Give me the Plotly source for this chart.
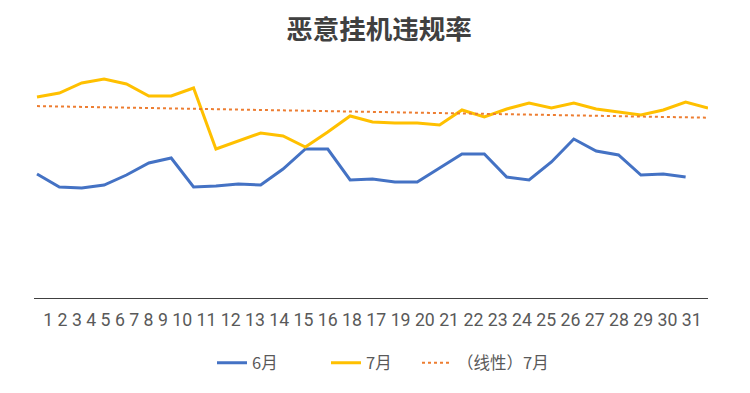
import numpy as np
import plotly.graph_objects as go

# ---- data ----
day_labels = ["1", "2", "3", "4", "5", "6", "7", "8", "9", "10", "11", "12", "13", "14", "15",
              "16", "18", "17", "19", "20", "21", "22", "23", "24", "25", "26", "27", "28",
              "29", "30", "31"]
june = [12.4, 11.1, 11.0, 11.3, 12.3, 13.5, 14.0, 11.1, 11.2, 11.4, 11.3, 12.9, 14.9, 14.9,
        11.8, 11.9, 11.6, 11.6, 13.0, 14.4, 14.4, 12.1, 11.8, 13.6, 15.9, 14.7, 14.3, 12.3,
        12.4, 12.1]
july = [20.1, 20.5, 21.5, 21.9, 21.4, 20.2, 20.2, 21.0, 14.9, 15.7, 16.5, 16.2, 15.1, 16.6,
        18.2, 17.6, 17.5, 17.5, 17.3, 18.8, 18.1, 18.9, 19.5, 19.0, 19.5, 18.9, 18.6, 18.3,
        18.8, 19.6, 19.0]
series_names = ["6月", "7月", "（线性）7月"]
title_text = "恶意挂机违规率"

# ---- styling ----
BLUE = "#4472C4"
GOLD = "#FFC000"
ORANGE = "#ED7D31"
TXT = "#595959"
CJK = "Noto Sans CJK SC"

# the page body has an 8px margin; the figure is sized to fit the 750x393 window
OFF = 8
W, H = 750 - OFF, 393 - OFF

x_june = list(range(len(june)))
x_july = list(range(len(july)))
coef = np.polyfit(x_july, july, 1)
trend = list(np.polyval(coef, x_july))

fig = go.Figure()
fig.add_trace(go.Scatter(x=x_june, y=june, mode="lines", name=series_names[0],
                         line=dict(color=BLUE, width=3), legend="legend", showlegend=True))
fig.add_trace(go.Scatter(x=x_july, y=july, mode="lines", name=series_names[1],
                         line=dict(color=GOLD, width=3), legend="legend2", showlegend=True))
fig.add_trace(go.Scatter(x=x_july, y=trend, mode="lines", name=series_names[2],
                         line=dict(color=ORANGE, width=2, dash="dot"), legend="legend3",
                         showlegend=True))

leg_common = dict(orientation="h", xref="container", yref="container",
                  xanchor="left", yanchor="middle", bgcolor="rgba(0,0,0,0)",
                  font=dict(family=CJK, size=16.5, color=TXT))
y_leg = 1 - (363 - OFF) / H


def lx(px):
    return (px - OFF - 5) / W


fig.update_layout(
    width=W, height=H,
    showlegend=True,
    paper_bgcolor="white", plot_bgcolor="rgba(0,0,0,0)",
    margin=dict(l=34 - OFF, r=W - (708 - OFF), t=58 - OFF, b=H - (298 - OFF)),
    title=dict(text=f"<b>{title_text}</b>", x=0.5, xanchor="center",
               y=1 - (30 - OFF) / H, yanchor="middle",
               font=dict(family=CJK, size=26.5, color="#404040")),
    xaxis=dict(range=[-0.134, len(july) - 1], showgrid=False, zeroline=False,
               showline=True, linecolor="#404040", linewidth=1,
               tickmode="array", tickvals=[(len(july) - 1) / 2],
               ticktext=[" ".join(day_labels)], tickangle=0, ticks="",
               tickfont=dict(family="Roboto", size=17.7, color=TXT),
               ticklabelstandoff=6),
    yaxis=dict(range=[0, 24], showgrid=False, zeroline=False, showline=False,
               showticklabels=False, ticks=""),
    legend=dict(leg_common, x=lx(217), y=y_leg),
    legend2=dict(leg_common, x=lx(331), y=y_leg),
    legend3=dict(leg_common, x=lx(422), y=y_leg),
    hovermode=False,
)

fig.write_html("out.html")
